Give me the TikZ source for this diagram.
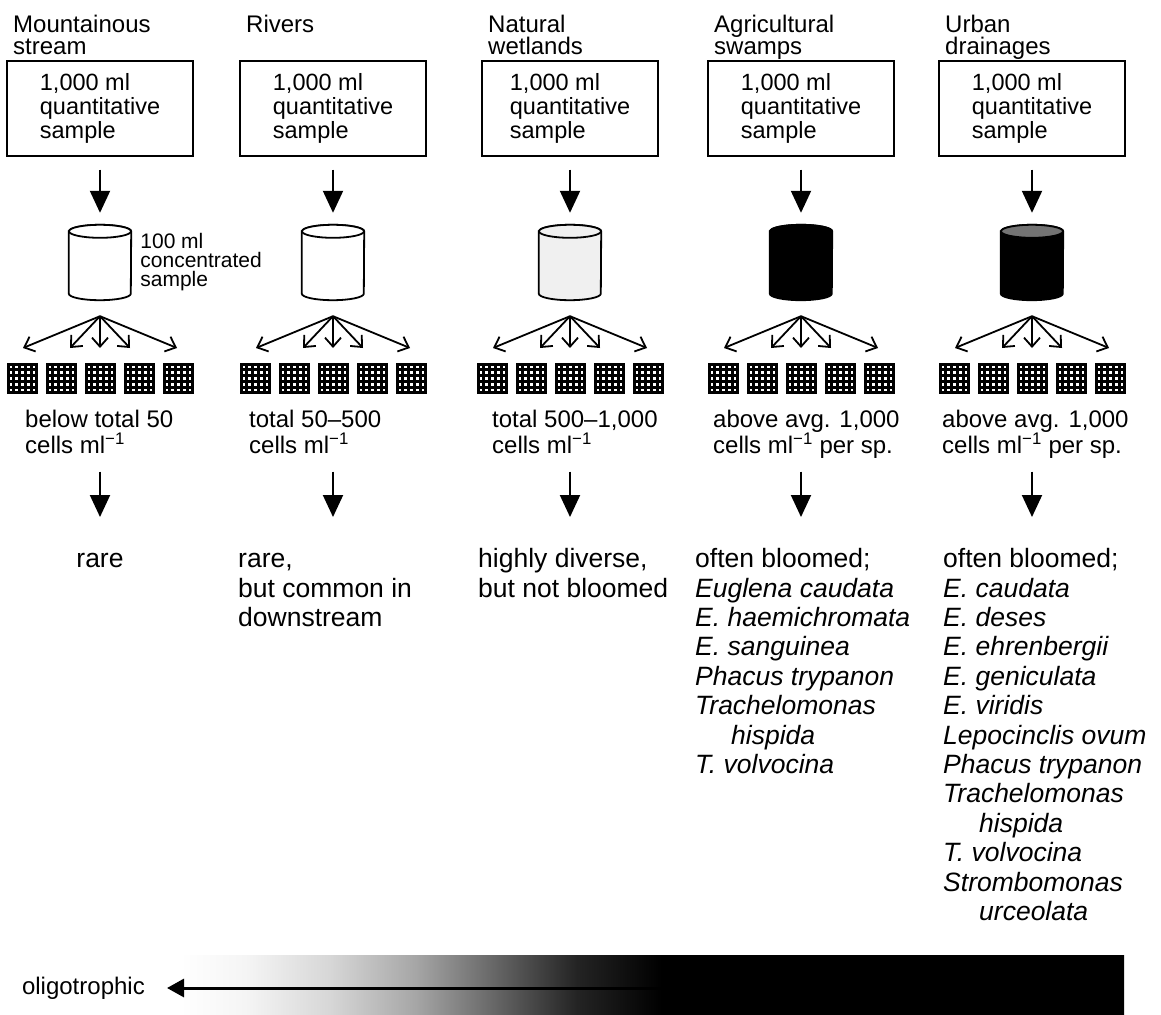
\documentclass[tikz,border=0pt]{standalone}
\usepackage{fontspec}
\setmainfont{Liberation Sans}
\usepackage{tikz}
\usetikzlibrary{arrows.meta,positioning}
\pgfdeclarehorizontalshading{trophic}{100bp}{color(0bp)=(white); color(25bp)=(white); color(28.5bp)=(black!4); color(33bp)=(black!16); color(37.5bp)=(black!35); color(42bp)=(black!62); color(46bp)=(black!86); color(50.5bp)=(black); color(75bp)=(black); color(100bp)=(black)}

\begin{document}
\begin{tikzpicture}[x=1pt,y=-1pt,
  habitat/.style={anchor=north west,inner sep=0pt,align=left,font=\fontsize{24}{22}\selectfont},
  sample/.style={draw,line width=1.6pt,minimum width=186pt,minimum height=95pt,inner sep=0pt,align=left,anchor=north,font=\fontsize{23.5}{24}\selectfont},
  can/.style={draw,line width=1.8pt},
  chamber/.style={fill=black,minimum size=31pt,inner sep=0pt},
  tally/.style={anchor=north west,inner sep=0pt,align=left,font=\fontsize{24}{26}\selectfont,execute at end node=\strut},
  finding/.style={anchor=north west,inner sep=0pt,align=left,font=\fontsize{26.5}{29.4}\selectfont},
  drop/.style={-{Triangle[width=20pt,length=22pt]},line width=2pt},
  fan/.style={-{Straight Barb[length=9pt,width=16pt]},line width=1.8pt},
  trend/.style={-{Triangle[width=18pt,length=17pt]},line width=3pt}]
\useasboundingbox (0,0) rectangle (1161,1014);
\shade[shading=trophic] (180,955) rectangle (1124,1014);
\foreach \c/\x/\w/\hab/\body/\lid in {1/100/186/{Mountainous\\stream}/white/white,2/333/186/Rivers/white/white,3/570/176/{Natural\\wetlands}/black!6/black!6,4/801/186/{Agricultural\\swamps}/black/black,5/1032/186/{Urban\\drainages}/black/black!55}{
  \node[habitat] (hab\c) at (\x-\w/2+6,14.5) {\hab};
  \node[sample,minimum width=\w pt] (box\c) at (\x,60) {1,000 ml\\quantitative\\sample};
  \node[inner sep=0pt,minimum width=62pt,minimum height=75pt] (cyl\c) at (\x,262.5) {};
  \filldraw[can,fill=\body] ([yshift=-6.5pt]cyl\c.north west) -- ([yshift=6.5pt]cyl\c.south west)
    arc[start angle=180,end angle=360,x radius=31pt,y radius=6.5pt] -- ([yshift=-6.5pt]cyl\c.north east)
    arc[start angle=0,end angle=180,x radius=31pt,y radius=6.5pt] -- cycle;
  \filldraw[can,fill=\lid] ([yshift=-6.5pt]cyl\c.north) ellipse[x radius=31pt,y radius=6.5pt];
  \draw[drop,shorten <=13pt,shorten >=12pt] (box\c.south) -- (cyl\c.north);
  \coordinate[below=16pt of cyl\c] (apex\c);
  \foreach \k/\dx in {1/-77,2/-30,3/0,4/30,5/77}{
    \coordinate (tip\c\k) at (\x+\dx,348);
    \draw[fan] (apex\c) -- (tip\c\k);
  }
  \foreach \k/\dx in {1/-78,2/-39,3/0,4/39,5/78}{
    \node[chamber] (ch\c\k) at (\x+\dx,378) {};
    \foreach \i in {0,...,4}
      \foreach \j in {0,...,4}
        \fill[white] ([shift={(3.2+\i*5.8,3.2+\j*5.8)}]ch\c\k.north west) rectangle ++(2.6,2.6);
  }
}
\node[right=9pt of cyl1,inner sep=0pt,align=left,font=\fontsize{21}{19}\selectfont] (conc) {100 ml\\concentrated\\sample};
\node[tally] (cnt1) at (25,410) {below total 50\\cells ml\textsuperscript{−1}};
\node[tally] (cnt2) at (249,410) {total 50–500\\cells ml\textsuperscript{−1}};
\node[tally] (cnt3) at (492,410) {total 500–1,000\\cells ml\textsuperscript{−1}};
\node[tally] (cnt4) at (713,410) {above avg. 1,000\\cells ml\textsuperscript{−1} per sp.};
\node[tally] (cnt5) at (942,410) {above avg. 1,000\\cells ml\textsuperscript{−1} per sp.};
\node[finding,anchor=north] (res1) at (100,547) {\strut rare};
\node[finding] (res2) at (238,547) {\strut rare,\\but common in\\downstream};
\node[finding] (res3) at (478,547) {\strut highly diverse,\\but not bloomed};
\node[finding] (res4) at (695,547) {\strut often bloomed;\\\textit{Euglena caudata}\\\textit{E. haemichromata}\\\textit{E. sanguinea}\\\textit{Phacus trypanon}\\\textit{Trachelomonas}\\\hspace*{36pt}\textit{hispida}\\\textit{T. volvocina}};
\node[finding] (res5) at (943,547) {\strut often bloomed;\\\textit{E. caudata}\\\textit{E. deses}\\\textit{E. ehrenbergii}\\\textit{E. geniculata}\\\textit{E. viridis}\\\textit{Lepocinclis ovum}\\\textit{Phacus trypanon}\\\textit{Trachelomonas}\\\hspace*{36pt}\textit{hispida}\\\textit{T. volvocina}\\\textit{Strombomonas}\\\hspace*{36pt}\textit{urceolata}};
\foreach \c in {1,...,5}
  \draw[drop,shorten <=10pt,shorten >=30pt] (cnt\c.south -| box\c.south) -- (res\c.north -| box\c.south);
\node[anchor=east,inner sep=0pt,font=\fontsize{24}{26}\selectfont] (oligo) at (145,988) {oligotrophic};
\coordinate (barend) at (1124,988);
\draw[trend,shorten >=22pt] (barend) -- (oligo.east);
\end{tikzpicture}
\end{document}
